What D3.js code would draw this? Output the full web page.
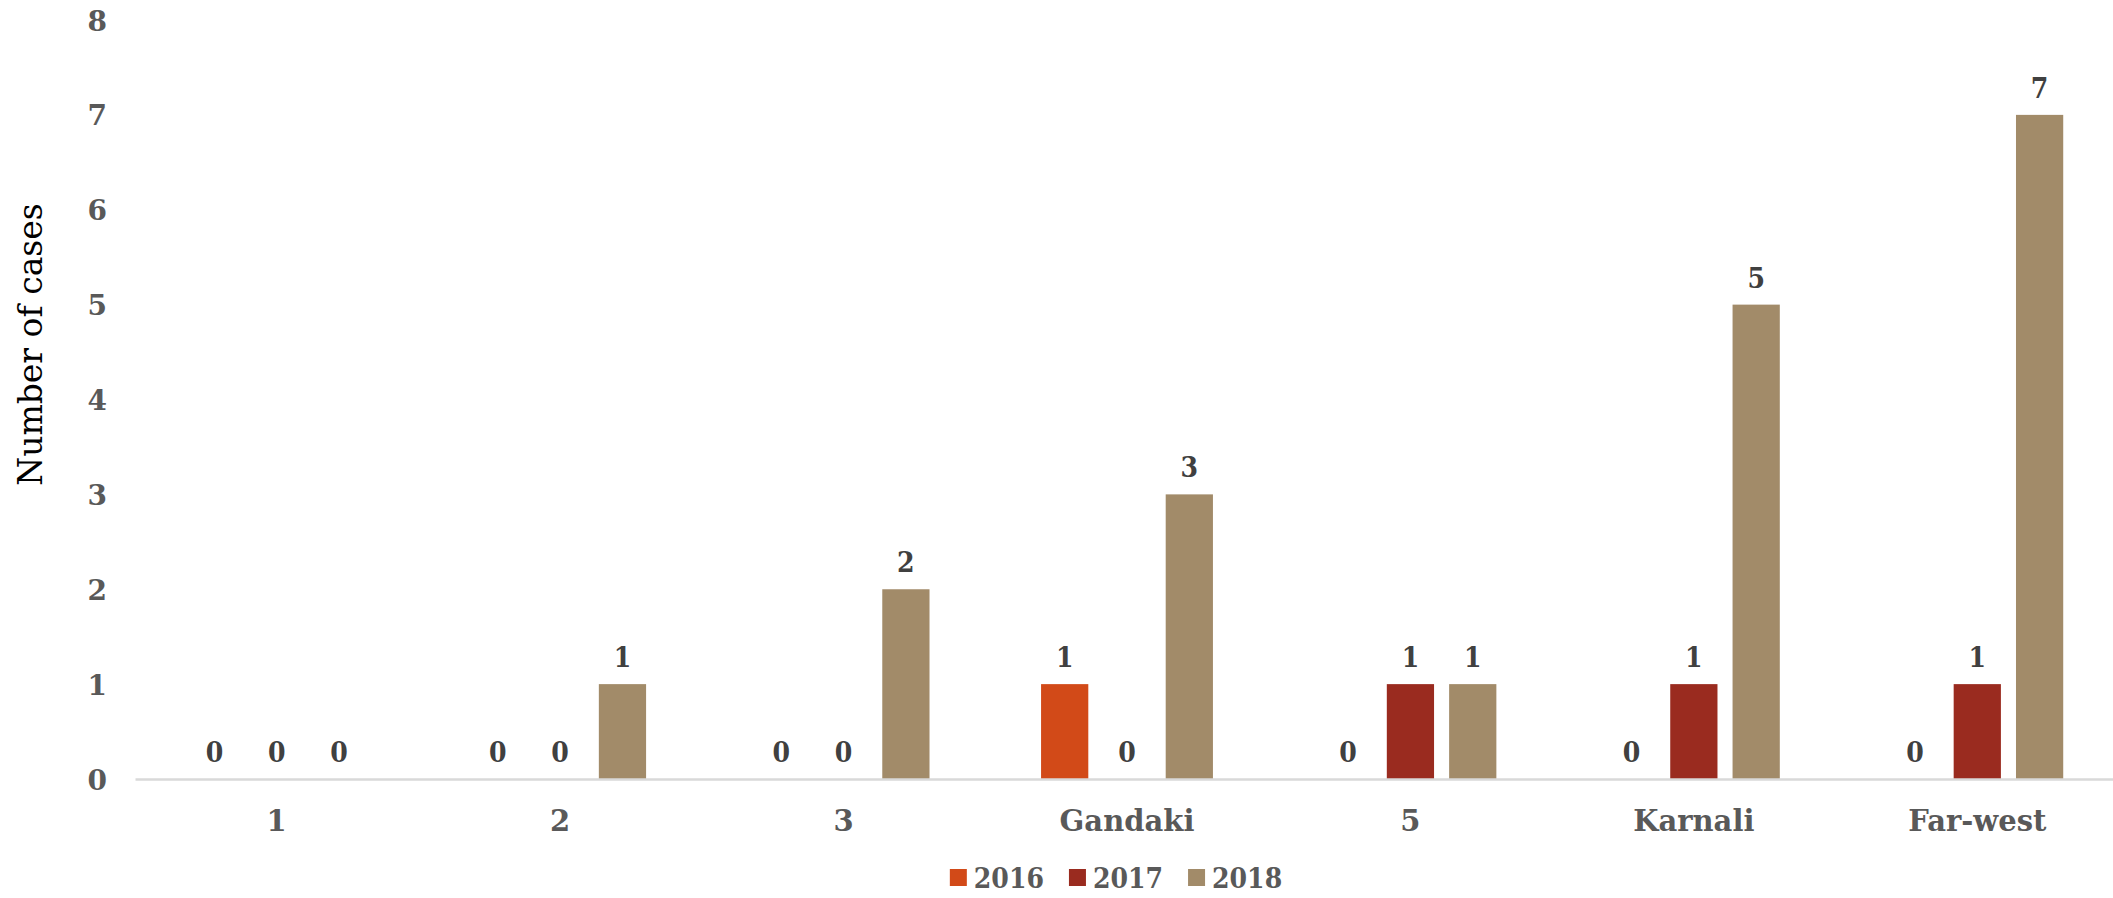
<!DOCTYPE html>
<html>
<head>
<meta charset="utf-8">
<script src="https://cdn.jsdelivr.net/npm/d3@7"></script>
<style>
  html, body { margin: 0; padding: 0; background: #ffffff; }
  svg { display: block; }
  .tick text { font-family: "DejaVu Serif", serif; font-weight: bold; fill: #595959; }
  .num { font-family: "DejaVu Serif Condensed", "DejaVu Serif", serif; font-weight: bold; }
</style>
</head>
<body>
<svg id="chart" width="2113" height="898"></svg>
<script>
// Cases per province, grouped by year
const categories = ["1", "2", "3", "Gandaki", "5", "Karnali", "Far-west"];
const years = ["2016", "2017", "2018"];
const values2016 = [0, 0, 0, 1, 0, 0, 0];
const values2017 = [0, 0, 0, 0, 1, 1, 1];
const values2018 = [0, 1, 2, 3, 1, 5, 7];
const yTicks = [0, 1, 2, 3, 4, 5, 6, 7, 8];
const colors = ["#D24A18", "#9A2B1F", "#A28B69"];

const seriesValues = [values2016, values2017, values2018];
const rows = categories.map((c, i) => ({
  category: c,
  bars: years.map((y, j) => ({ year: y, value: seriesValues[j][i], color: colors[j] }))
}));

const svg = d3.select("#chart");
const margin = { left: 135, right: -6, top: 20, bottom: 119 };
const W = 2113, H = 898;

const x0 = d3.scaleBand().domain(categories).range([margin.left, W - margin.right]).padding(0);
const x1 = d3.scaleBand().domain(years).range([0, x0.bandwidth()])
  .paddingInner(0.242).paddingOuter(0.895);
const y = d3.scaleLinear().domain([0, 8]).range([H - margin.bottom, margin.top]);

// Y axis: labels only
const yAxis = svg.append("g")
  .attr("transform", `translate(${margin.left - 28},0)`)
  .call(d3.axisLeft(y).tickValues(yTicks).tickSize(0).tickPadding(0).tickFormat(d3.format("d")));
yAxis.select(".domain").remove();
yAxis.selectAll("text").attr("class", "num").style("font-size", "28px").attr("dy", "0.36em");

// Bars
const groups = svg.append("g").selectAll("g")
  .data(rows).join("g")
  .attr("transform", d => `translate(${x0(d.category)},0)`);

groups.selectAll("rect")
  .data(d => d.bars.filter(b => b.value > 0)).join("rect")
  .attr("x", d => x1(d.year))
  .attr("width", x1.bandwidth())
  .attr("y", d => y(d.value))
  .attr("height", d => y(0) - y(d.value))
  .attr("fill", d => d.color);

// Value labels
groups.selectAll("text.value")
  .data(d => d.bars).join("text")
  .attr("class", "value num")
  .attr("x", d => x1(d.year) + x1.bandwidth() / 2)
  .attr("y", d => y(d.value) - 17)
  .attr("text-anchor", "middle")
  .style("font-size", "28px")
  .style("fill", "#404040")
  .text(d => d.value);

// X axis with baseline
const xAxis = svg.append("g")
  .attr("transform", `translate(0,${y(0)})`)
  .call(d3.axisBottom(x0).tickSize(0).tickPadding(31));
xAxis.select(".domain").attr("stroke", "#D9D9D9").attr("stroke-width", 2.5);
xAxis.selectAll("text").style("font-size", "29px");

// Y axis title
svg.append("text")
  .attr("transform", `translate(42,${(y(0) + y(8)) / 2 - 55}) rotate(-90)`)
  .attr("text-anchor", "middle")
  .style("font-family", '"DejaVu Serif", serif')
  .style("font-size", "33px")
  .style("fill", "#000000")
  .text("Number of cases");

// Legend
const legend = svg.append("g").attr("transform", `translate(0,${H - 10})`);
const items = legend.selectAll("g").data(years).join("g");
items.append("rect")
  .attr("width", 17).attr("height", 17).attr("y", -19)
  .attr("fill", (d, i) => colors[i]);
items.append("text")
  .attr("class", "num")
  .attr("x", 24)
  .style("font-size", "28px")
  .style("fill", "#595959")
  .text(d => d);
let offset = 0;
const widths = [];
items.each(function () {
  widths.push(this.getBBox().width);
});
const gap = 25;
const total = d3.sum(widths) + gap * (widths.length - 1);
offset = 1116 - total / 2;
items.attr("transform", (d, i) => {
  const t = `translate(${offset},0)`;
  offset += widths[i] + gap;
  return t;
});
</script>
</body>
</html>
